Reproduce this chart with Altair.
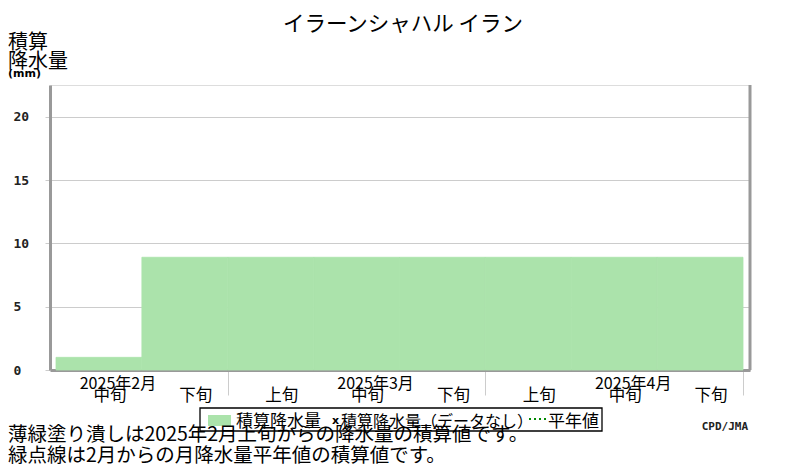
import altair as alt
import pandas as pd

# ---- data ----
dekad_start = [1, 2, 3, 4, 5, 6, 7, 8]
dekad_end = [2, 3, 4, 5, 6, 7, 8, 9]
precip = [1.0, 8.9, 8.9, 8.9, 8.9, 8.9, 8.9, 8.9]
dekad_pos = [1.5, 2.5, 3.5, 4.5, 5.5, 6.5, 7.5, 8.5]
dekad_labels = ["中旬", "下旬", "上旬", "中旬", "下旬", "上旬", "中旬", "下旬"]
month_pos = [1.5, 4.5, 7.5]
month_labels = ["2025年2月", "2025年3月", "2025年4月"]
month_sep = [3, 6, 9]
y_ticks = [0, 5, 10, 15, 20]

title_text = "イラーンシャハル イラン"
ytitle_lines = ["積算", "降水量"]
unit_text = "(mm)"
legend_items = ["積算降水量", "積算降水量（データなし）", "平年値"]
note_lines = [
    "薄緑塗り潰しは2025年2月上旬からの降水量の積算値です。",
    "緑点線は2月からの月降水量平年値の積算値です。",
]
credit = "CPD/JMA"

FONT = "Noto Sans CJK JP"
GREEN = "#abe3ab"
W, H = 700, 285

xscale = alt.Scale(domain=[0.9301, 9.0815], nice=False, zero=False)
yscale = alt.Scale(domain=[0, 22.5], nice=False, zero=True)

bars_df = pd.DataFrame({"start": dekad_start, "end": dekad_end,
                        "value": precip, "zero": [0] * len(precip)})

bars = alt.Chart(bars_df).mark_rect(color=GREEN, stroke=GREEN, strokeWidth=0.8).encode(
    x=alt.X("start:Q", scale=xscale, title=None,
            axis=alt.Axis(values=month_sep, labels=False, tickSize=25,
                          tickColor="#cccccc", tickWidth=1, grid=False,
                          domainColor="#999999", domainWidth=3, title=None)),
    x2="end:Q",
    y=alt.Y("value:Q", scale=yscale, title=None,
            axis=alt.Axis(values=y_ticks, grid=True, gridColor="#cccccc",
                          gridWidth=1, tickColor="#cccccc", tickSize=5,
                          domainColor="#999999", domainWidth=3,
                          labelFont="DejaVu Sans Mono", labelFontWeight="bold",
                          labelFontSize=13, labelColor="#222222",
                          labelAlign="left", labelPadding=32, title=None)),
    y2="zero:Q",
)

right_border = alt.Chart(pd.DataFrame({"a": [0]})).mark_rule(
    color="#999999", strokeWidth=3).encode(
    x=alt.value(W), y=alt.value(0), y2=alt.value(H))

dek_df = pd.DataFrame({"pos": dekad_pos, "label": dekad_labels})
dek_text = alt.Chart(dek_df).mark_text(
    font=FONT, fontSize=16.5, dx=11, align="center", baseline="alphabetic",
    color="black").encode(
    x=alt.X("pos:Q", scale=xscale, title=None), y=alt.value(316), text="label:N")

mon_df = pd.DataFrame({"pos": month_pos, "label": month_labels})
mon_text = alt.Chart(mon_df).mark_text(
    font=FONT, fontSize=16, dx=19, align="center", baseline="alphabetic",
    color="black").encode(
    x=alt.X("pos:Q", scale=xscale, title=None), y=alt.value(304), text="label:N")


def txt(s, x, y, size, align="left", font=FONT, weight="normal", color="black"):
    return alt.Chart(pd.DataFrame({"t": [s]})).mark_text(
        font=font, fontSize=size, align=align, baseline="alphabetic",
        fontWeight=weight, color=color).encode(
        text="t:N", x=alt.value(x), y=alt.value(y))


title = txt(title_text, 353, -54, 21.5, align="center")
yt1 = txt(ytitle_lines[0], -42, -36, 20)
yt2 = txt(ytitle_lines[1], -42, -17, 20)
yt3 = txt(unit_text, -42, -8, 11, font="DejaVu Sans", weight="bold")

legend_box = alt.Chart(pd.DataFrame({"a": [0]})).mark_rect(
    fill="white", stroke="black", strokeWidth=1.3).encode(
    x=alt.value(150), x2=alt.value(552), y=alt.value(323), y2=alt.value(346))
swatch = alt.Chart(pd.DataFrame({"a": [0]})).mark_rect(color=GREEN).encode(
    x=alt.value(158), x2=alt.value(181), y=alt.value(330), y2=alt.value(341))
dotline = alt.Chart(pd.DataFrame({"a": [0]})).mark_rule(
    color="#008800", strokeWidth=2, strokeDash=[2, 3]).encode(
    x=alt.value(479), x2=alt.value(497), y=alt.value(334))
leg1 = txt(legend_items[0], 186, 342, 17)
legx = txt("x", 285.5, 339, 11, align="center", font="DejaVu Sans", weight="bold")
leg2 = txt(legend_items[1], 291, 342, 16)
leg3 = txt(legend_items[2], 498, 342, 17)

note1 = txt(note_lines[0], -42, 356, 19.5)
note2 = txt(note_lines[1], -42, 377, 19.5)
cred = txt(credit, 698, 345, 11, align="right", font="DejaVu Sans Mono", weight="bold",
           color="#222222")

chart = alt.layer(
    bars, right_border, dek_text, mon_text, title, yt1, yt2, yt3,
    legend_box, swatch, dotline, leg1, legx, leg2, leg3, note1, note2, cred
).properties(
    width=W, height=H,
    padding={"left": 42, "top": 77, "right": 42, "bottom": 96},
    autosize=alt.AutoSizeParams(type="none"),
).configure_view(stroke=None).configure(background="white")

chart.save("out.html", embed_options={"renderer": "svg", "actions": False})
